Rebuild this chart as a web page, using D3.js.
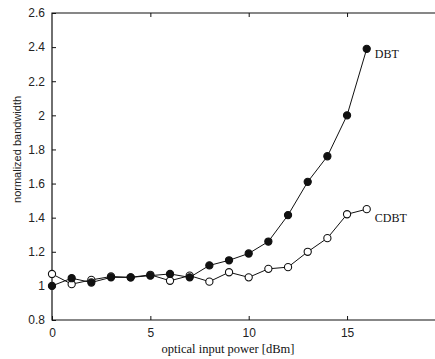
<!DOCTYPE html>
<html>
<head>
<meta charset="utf-8">
<script src="https://cdn.jsdelivr.net/npm/d3@7"></script>
<style>
  body { margin: 0; background: #fff; }
  svg { display: block; }
  .tick text { font-family: "Liberation Sans", Arial, sans-serif; font-size: 12px; fill: #222; }
  .serif { font-family: "Liberation Serif", "Times New Roman", serif; fill: #111; }
</style>
</head>
<body>
<div id="chart"></div>
<script>
// input power in dBm
const power = [0, 1, 2, 3, 4, 5, 6, 7, 8, 9, 10, 11, 12, 13, 14, 15, 16];
// normalized bandwidth, DBT (filled markers)
const dbt = [1.0, 1.045, 1.02, 1.05, 1.05, 1.06, 1.07, 1.05, 1.12, 1.15, 1.19, 1.26, 1.415, 1.61, 1.76, 2.0, 2.39];
// normalized bandwidth, CDBT (open markers)
const cdbt = [1.07, 1.01, 1.035, 1.055, 1.05, 1.065, 1.03, 1.06, 1.025, 1.08, 1.05, 1.10, 1.11, 1.20, 1.28, 1.42, 1.45];
const xTicks = [0, 5, 10, 15];
const yTicks = [0.8, 1.0, 1.2, 1.4, 1.6, 1.8, 2.0, 2.2, 2.4, 2.6];

const width = 435, height = 359;
const mLeft = 52, mTop = 13, mBottom = 320;

const svg = d3.select("#chart").append("svg")
  .attr("width", width)
  .attr("height", height);

const x = d3.scaleLinear().domain([0, 20]).range([mLeft, mLeft + 20 * 19.67]);
const y = d3.scaleLinear().domain([0.8, 2.6]).range([mBottom, mTop]);

// frame: left, top and bottom edges (right edge lies outside the picture)
svg.append("path")
  .attr("d", `M${width},${y(2.6)}H${x(0)}V${y(0.8)}H${width}`)
  .attr("fill", "none").attr("stroke", "#111").attr("stroke-width", 1.2);

// axes with inward ticks
const fmt = d => d3.format("~g")(d);
svg.append("g")
  .attr("transform", `translate(0,${mBottom})`)
  .call(d3.axisBottom(x).tickValues(xTicks).tickSizeInner(-4).tickSizeOuter(0).tickPadding(8).tickFormat(fmt))
  .call(g => g.select(".domain").remove());
svg.append("g")
  .attr("transform", `translate(0,${mTop})`)
  .call(d3.axisTop(x).tickValues(xTicks.slice(1)).tickSizeInner(-4).tickSizeOuter(0).tickFormat(""))
  .call(g => g.select(".domain").remove());
svg.append("g")
  .attr("transform", `translate(${mLeft},0)`)
  .call(d3.axisLeft(y).tickValues(yTicks).tickSizeInner(-4).tickSizeOuter(0).tickPadding(7).tickFormat(fmt))
  .call(g => g.select(".domain").remove());
svg.selectAll(".tick line").attr("stroke", "#111");

// axis titles
svg.append("text")
  .attr("class", "serif")
  .attr("x", 228).attr("y", 353)
  .attr("text-anchor", "middle")
  .style("font-size", "12.5px")
  .text("optical input power [dBm]");
svg.append("text")
  .attr("transform", `translate(21,${y(1.8)}) rotate(-90)`)
  .attr("text-anchor", "middle")
  .style("font-family", "Liberation Sans, Arial, sans-serif")
  .style("font-size", "11px")
  .attr("fill", "#222")
  .text("normalized bandwidth");

const line = d3.line()
  .x((d, i) => x(power[i]))
  .y(d => y(d));

function series(values, filled, label, dy) {
  svg.append("path")
    .datum(values)
    .attr("d", line)
    .attr("fill", "none")
    .attr("stroke", "#111")
    .attr("stroke-width", 1);
  svg.append("g").selectAll("circle")
    .data(values)
    .join("circle")
    .attr("cx", (d, i) => x(power[i]))
    .attr("cy", d => y(d))
    .attr("r", 3.6)
    .attr("fill", filled ? "#111" : "#fff")
    .attr("stroke", "#111")
    .attr("stroke-width", 1.1);
  const last = values.length - 1;
  svg.append("text")
    .attr("class", "serif")
    .attr("x", x(power[last]) + 8)
    .attr("y", y(values[last]) + dy)
    .style("font-size", "12px")
    .text(label);
}

series(cdbt, false, "CDBT", 13);
series(dbt, true, "DBT", 9);
</script>
</body>
</html>
